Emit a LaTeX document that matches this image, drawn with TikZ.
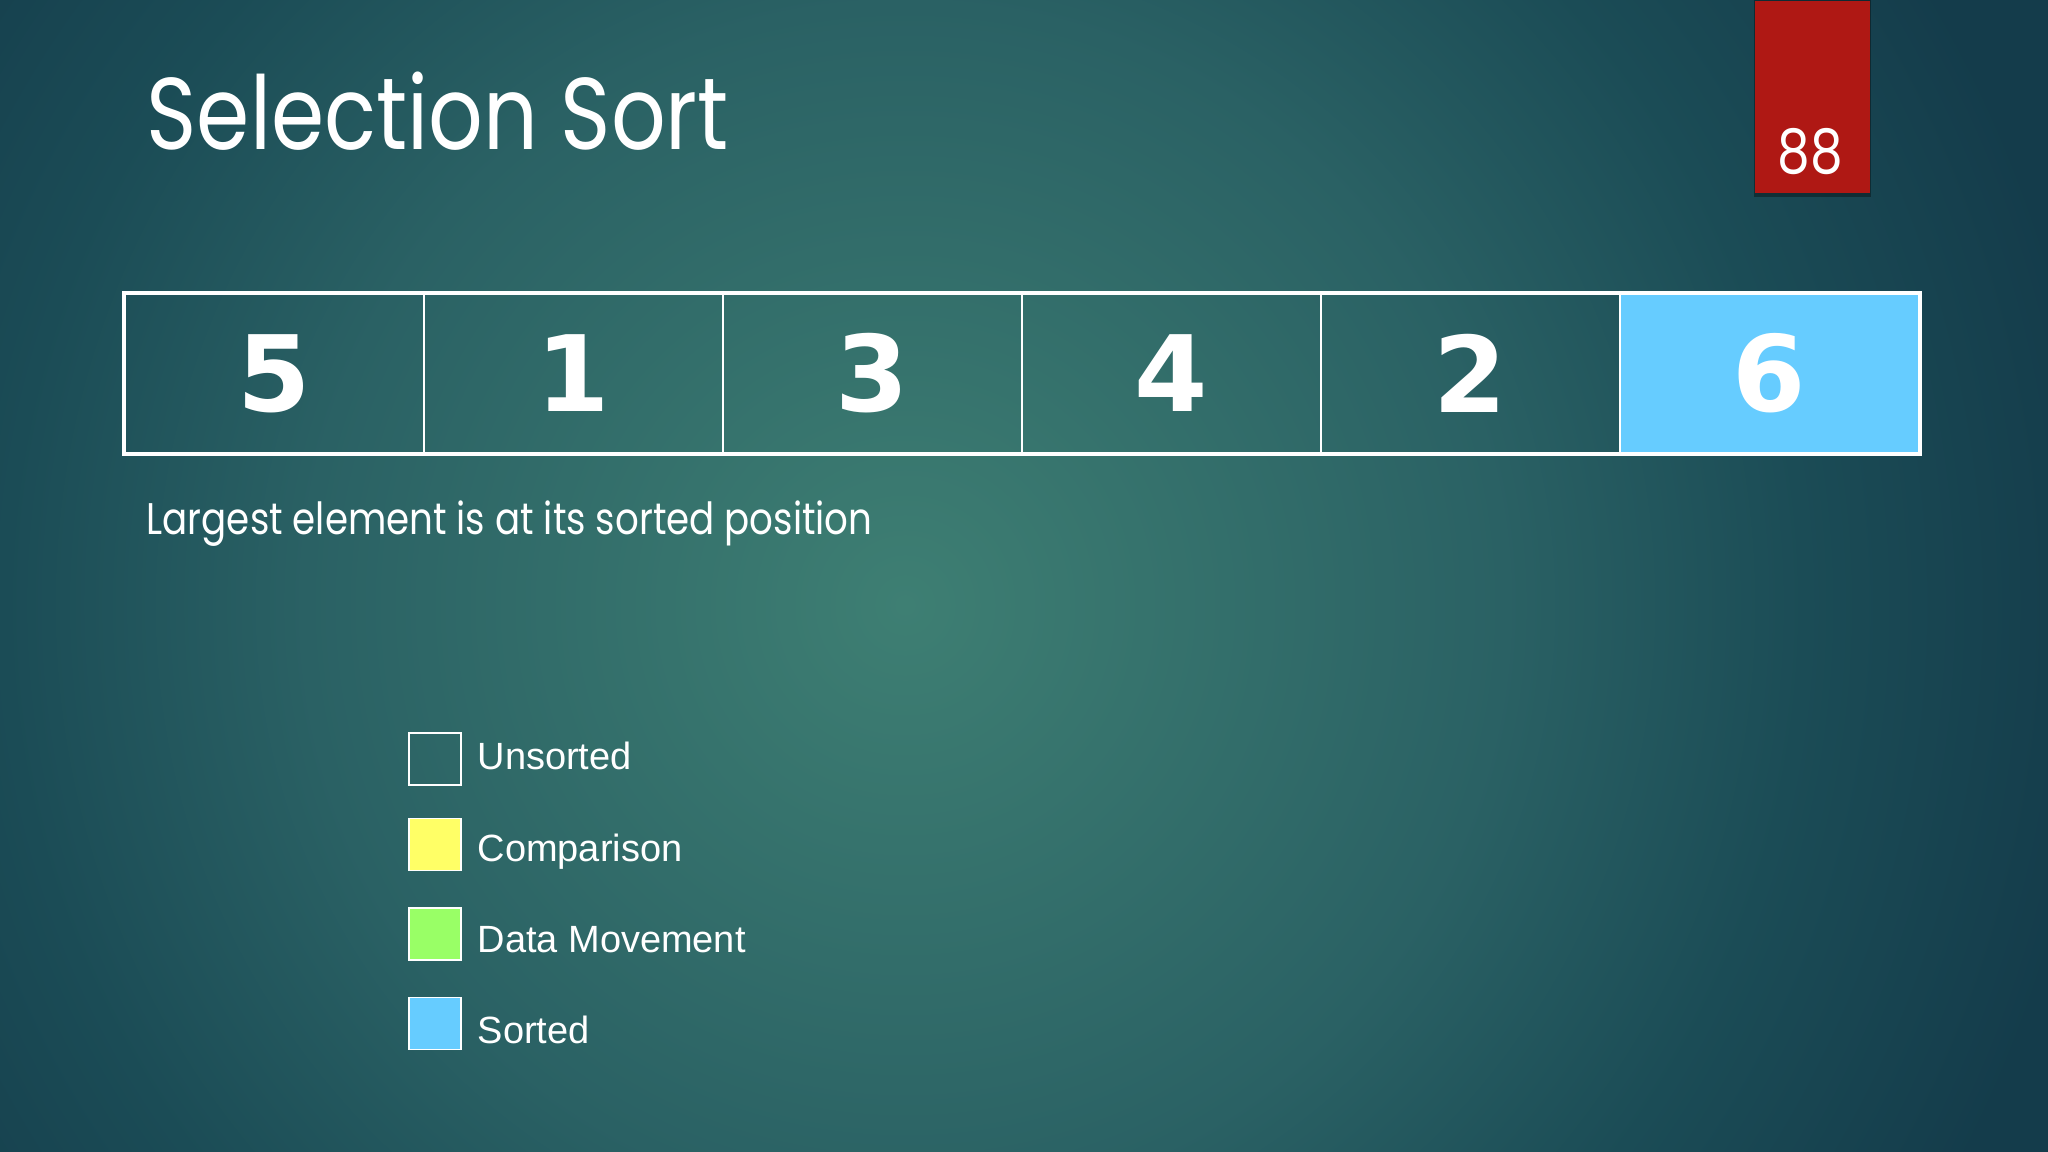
\documentclass[tikz,border=0pt]{standalone}
\usepackage{fontspec}
\setmainfont{Poppins}
\newfontfamily\titlefont[FakeStretch=0.84]{Poppins}
\newfontfamily\legendfont{Liberation Sans}
\newfontfamily\numfont{DejaVu Sans}
\usetikzlibrary{positioning}
\definecolor{bgin}{RGB}{62,127,115}
\definecolor{bgmid}{RGB}{42,97,100}
\definecolor{bgfar}{RGB}{27,76,86}
\definecolor{bgout}{RGB}{20,60,75}
\definecolor{slidered}{RGB}{175,24,20}
\definecolor{sortedblue}{RGB}{102,204,255}
\definecolor{compyellow}{RGB}{255,255,102}
\definecolor{movegreen}{RGB}{153,255,102}
\pgfdeclareradialshading{glow}{\pgfpoint{0bp}{0bp}}{color(0bp)=(bgin); color(170bp)=(bgmid); color(255bp)=(bgfar); color(340bp)=(bgout)}

\begin{document}
\begin{tikzpicture}[x=0.1mm,y=-0.1mm]
		\tikzset{cell/.style = {draw=white, line width=0.2mm, minimum width=29.9mm, minimum height=15.9mm, inner sep=0pt, text=white, font=\numfont\bfseries\fontsize{30}{30}\selectfont},
			unsorted/.style = {},
			sorted/.style = {fill=sortedblue},
			key/.style = {draw=white, line width=0.15mm, minimum size=5.2mm, inner sep=0pt},
			keytext/.style = {anchor=base west, text=white, inner sep=0pt, font=\legendfont\fontsize{10.8}{10.8}\selectfont}}

		% background
		\useasboundingbox (0,0) rectangle (2048,1152);
		\begin{scope}
			\clip (0,0) rectangle (2048,1152);
			\fill[bgout] (0,0) rectangle (2048,1152);
			\node[inner sep=0pt] (glow) at (905,605) {\pgfuseshading{glow}};
		\end{scope}

		% page number tab
		\fill[black, opacity=0.35] (1754,0) rectangle (1871,197);
		\node[fill=slidered, minimum width=11.5mm, minimum height=19.2mm, inner sep=0pt, anchor=north west] (tab) at (1754,0) {};
		\node[text=white, inner sep=0pt, font=\titlefont\fontsize{17.5}{17.5}\selectfont] (pagenum) at (1810,152) {88};

		% title and remark
		\node[anchor=base west, inner sep=0pt, text=white, font=\titlefont\fontsize{29}{29}\selectfont] (title) at (146,150) {Selection Sort};
		\node[anchor=base west, inner sep=0pt, text=white, font=\titlefont\fontsize{12.6}{12.6}\selectfont] (remark) at (146,535) {Largest element is at its sorted position};

		% array
		\foreach \v/\s [count=\i] in {5/unsorted,1/unsorted,3/unsorted,4/unsorted,2/unsorted,6/sorted}
			\node[cell, \s] (c\i) at ({125+299*(\i-0.5)},373.5) {\v};
		\draw[white, line width=0.4mm] (c1.north west) rectangle (c6.south east);

		% legend
		\node[key] (k1) at (435,759) {};
		\node[key, fill=compyellow] (k2) at (435,844.5) {};
		\node[key, fill=movegreen] (k3) at (435,934) {};
		\node[key, fill=sortedblue] (k4) at (435,1023.5) {};

		\node[keytext] (t1) at (477,770) {Unsorted};
		\node[keytext] (t2) at (477,862) {Comparison};
		\node[keytext] (t3) at (477,953) {Data Movement};
		\node[keytext] (t4) at (477,1043) {Sorted};

	\end{tikzpicture}
\end{document}
